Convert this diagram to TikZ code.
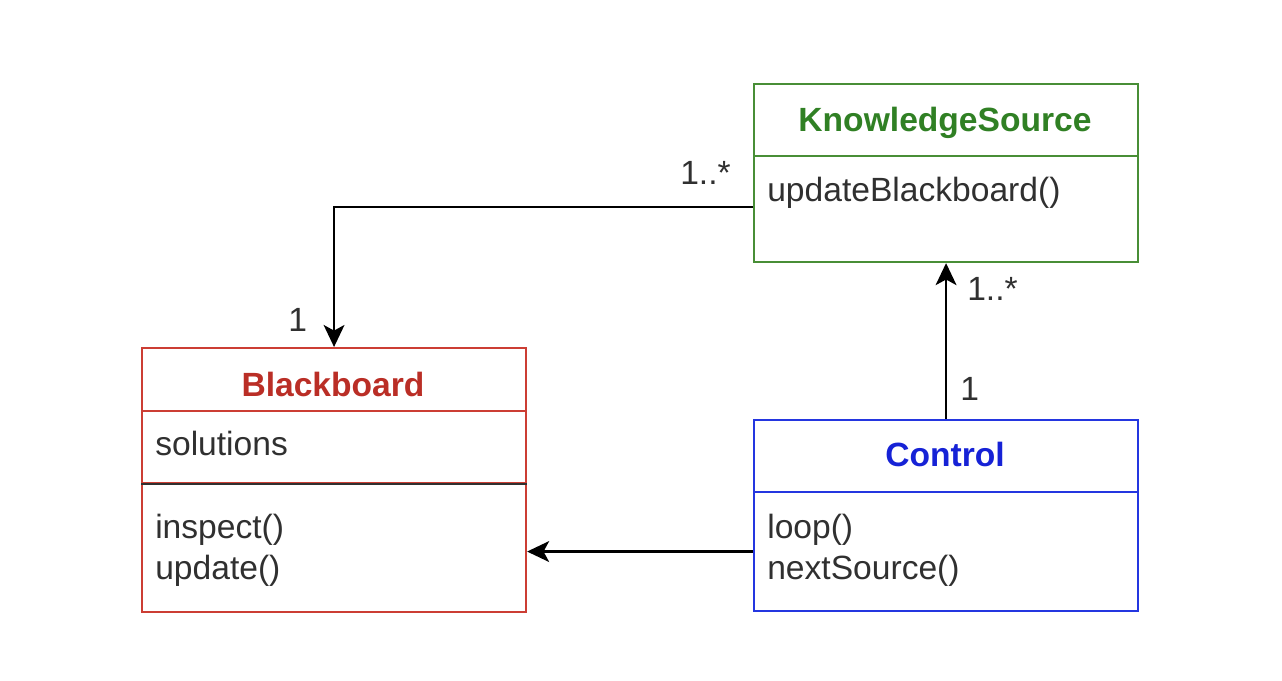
\documentclass[tikz,border=0pt]{standalone}
\usepackage{fontspec}
\setmainfont{Liberation Sans}
\usepackage{xcolor}
\usetikzlibrary{arrows.meta,positioning}
\definecolor{bbcolor}{RGB}{186,46,38}
\definecolor{bbborder}{RGB}{204,62,52}
\definecolor{kscolor}{RGB}{48,128,36}
\definecolor{ksborder}{RGB}{72,142,54}
\definecolor{ctrlcolor}{RGB}{22,34,214}
\definecolor{ctrlborder}{RGB}{36,54,224}
\definecolor{textgray}{RGB}{48,48,48}

\begin{document}
\begin{tikzpicture}[
    box/.style={rectangle, draw, line width=1.5pt, minimum width=9.6cm, anchor=north west, inner sep=0pt},
    bbbox/.style={box, draw=bbborder},
    ksbox/.style={box, draw=ksborder},
    ctrlbox/.style={box, draw=ctrlborder},
    title/.style={font=\fontsize{23.9}{29}\selectfont\bfseries, anchor=base, inner sep=0pt},
    member/.style={font=\fontsize{23.9}{29}\selectfont, anchor=base west, text=textgray, inner sep=0pt},
    mult/.style={member},
    arrow/.style={line width=1.7pt, -{Stealth[length=0.55cm, width=0.52cm, inset=0.14cm]}}
]
\useasboundingbox (0,0) rectangle (32.05,17);

% Blackboard
\node[bbbox, minimum height=1.575cm] (bbtitle) at (3.525,8.325) {};
\node[bbbox, minimum height=1.8cm] (bbattr) at (3.525,6.75) {};
\node[bbbox, minimum height=3.225cm] (bbops) at (3.525,4.95) {};
\draw[line width=1.5pt, textgray] (bbattr.south west) -- (bbattr.south east);
\node[title, text=bbcolor] (bbname) at (8.325,7.075) {Blackboard};
\node[member] (solutions) at (3.875,5.6) {solutions};
\node[member] (inspect) at (3.875,3.55) {inspect()};
\node[member] (update) at (3.875,2.525) {update()};

% KnowledgeSource
\node[ksbox, minimum height=1.8cm] (kstitle) at (18.825,14.925) {};
\node[ksbox, minimum height=2.65cm] (ksops) at (18.825,13.125) {};
\node[title, text=kscolor] (ksname) at (23.625,13.7) {KnowledgeSource};
\node[member] (updbb) at (19.175,11.95) {updateBlackboard()};

% Control
\node[ctrlbox, minimum height=1.8cm] (ctrltitle) at (18.825,6.525) {};
\node[ctrlbox, minimum height=2.975cm] (ctrlops) at (18.825,4.725) {};
\node[title, text=ctrlcolor] (ctrlname) at (23.625,5.325) {Control};
\node[member] (loop) at (19.175,3.55) {loop()};
\node[member] (nextsrc) at (19.175,2.525) {nextSource()};

% Arrows
\draw[arrow] ([yshift=0.05cm]ksops.west) -| (bbtitle.north);
\draw[arrow] (ctrltitle.north) -- (ksops.south);
\draw[arrow] (ctrlops.west) -- (bbops.east |- ctrlops.west);

% Multiplicities
\node[mult] (m1) at (17.0,12.375) {1..*};
\node[mult] (m2) at (7.2,8.7) {1};
\node[mult] (m3) at (24.175,9.475) {1..*};
\node[mult] (m4) at (24.0,6.975) {1};

\end{tikzpicture}
\end{document}
